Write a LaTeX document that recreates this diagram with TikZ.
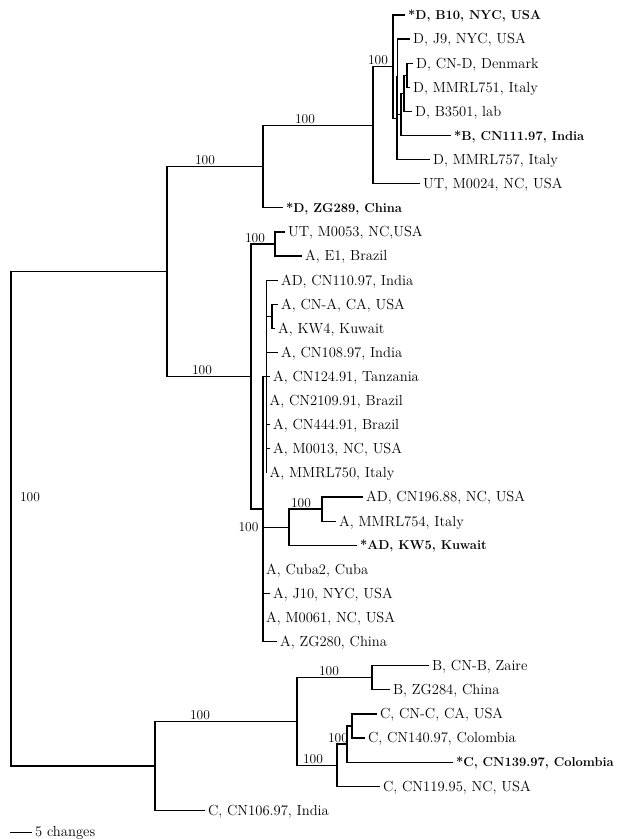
\documentclass[tikz,border=0pt]{standalone}
\usepackage{tikz}
\tikzstyle{branch} = [line width=1.2pt]
\tikzstyle{taxon} = [anchor=west, inner xsep=2.5pt, inner ysep=0pt, text height=9.8pt, text depth=0pt, font=\fontsize{14.6}{16}\selectfont]
\tikzstyle{newtaxon} = [taxon, text height=9pt, font=\fontsize{12.9}{15}\selectfont\bfseries]
\tikzstyle{boot} = [inner sep=1pt, font=\fontsize{13.5}{15}\selectfont]

\begin{document}
\begin{tikzpicture}[x=1pt, y=-24.1pt, branch]
\useasboundingbox (0,0.3776) rectangle (618,35.19);

% Internal nodes (x in px, y in rows)
\coordinate (root) at (11,21.9);
\coordinate (up) at (167,11.64);
\coordinate (low) at (155,32.16);
\coordinate (dclade) at (263,7.285);
\coordinate (dtop) at (373,5.57);
\coordinate (da) at (393,3.14);
\coordinate (db) at (397,5.28);
\coordinate (dbb) at (397.5,3.56);
\coordinate (dc) at (401,5.125);
\coordinate (dd) at (404,4.25);
\coordinate (de) at (407,3.5);
\coordinate (aclade) at (251,16);
\coordinate (am) at (275,10.5);
\coordinate (ax) at (263,21.5);
\coordinate (ay) at (266.5,16);
\coordinate (ak) at (272,13.5);
\coordinate (akw) at (289,22.25);
\coordinate (az) at (322,21.5);
\coordinate (bc) at (297,30.31);
\coordinate (bb) at (372,28.5);
\coordinate (cc) at (337,32.125);
\coordinate (cc2) at (347,31.25);
\coordinate (cc3) at (352,30.5);

% Taxa, D group
\node[newtaxon] (b10) at (405,1) {*D, B10, NYC, USA};
\node[taxon] (j9) at (410,2) {D, J9, NYC, USA};
\node[taxon] (cnd) at (413,3) {D, CN-D, Denmark};
\node[taxon] (mmrl751) at (410,4) {D, MMRL751, Italy};
\node[taxon] (b3501) at (412,5) {D, B3501, lab};
\node[newtaxon] (cn111) at (451,6) {*B, CN111.97, India};
\node[taxon] (mmrl757) at (430,7) {D, MMRL757, Italy};
\node[taxon] (m0024) at (420,8) {UT, M0024, NC, USA};
\node[newtaxon] (zg289) at (283,9) {*D, ZG289, China};

% Taxa, A group
\node[taxon] (m0053) at (285,10) {UT, M0053, NC,USA};
\node[taxon] (e1) at (302,11) {A, E1, Brazil};
\node[taxon] (cn110) at (278,12) {AD, CN110.97, India};
\node[taxon] (cna) at (278,13) {A, CN-A, CA, USA};
\node[taxon] (kw4) at (275,14) {A, KW4, Kuwait};
\node[taxon] (cn108) at (278,15) {A, CN108.97, India};
\node[taxon] (cn124) at (270,16) {A, CN124.91, Tanzania};
\node[taxon] (cn2109) at (266.5,17) {A, CN2109.91, Brazil};
\node[taxon] (cn444) at (270,18) {A, CN444.91, Brazil};
\node[taxon] (m0013) at (270,19) {A, M0013, NC, USA};
\node[taxon] (mmrl750) at (266.5,20) {A, MMRL750, Italy};
\node[taxon] (cn196) at (363,21) {AD, CN196.88, NC, USA};
\node[taxon] (mmrl754) at (336,22) {A, MMRL754, Italy};
\node[newtaxon] (kw5) at (357,23) {*AD, KW5, Kuwait};
\node[taxon] (cuba2) at (263,24) {A, Cuba2, Cuba};
\node[taxon] (j10) at (270,25) {A, J10, NYC, USA};
\node[taxon] (m0061) at (263,26) {A, M0061, NC, USA};
\node[taxon] (zg280) at (277,27) {A, ZG280, China};

% Taxa, B and C groups
\node[taxon] (cnb) at (429,28) {B, CN-B, Zaire};
\node[taxon] (zg284) at (390,29) {B, ZG284, China};
\node[taxon] (cnc) at (377,30) {C, CN-C, CA, USA};
\node[taxon] (cn140) at (365,31) {C, CN140.97, Colombia};
\node[newtaxon] (cn139) at (453,32) {*C, CN139.97, Colombia};
\node[taxon] (cn119) at (380,33) {C, CN119.95, NC, USA};
\node[taxon] (cn106) at (205,34) {C, CN106.97, India};

% Branches
\draw (root) |- (up); \draw (root) |- (low);
\draw (up) |- (dclade); \draw (up) |- (aclade);
\draw (dclade) |- (dtop); \draw (dclade) |- (zg289.west);
\draw (dtop) |- (da); \draw (dtop) |- (m0024.west);
\draw (da) |- (b10.west); \draw (da) |- (db);
\draw (db) |- (dbb); \draw (db) |- (mmrl757.west);
\draw (dbb) |- (j9.west); \draw (dbb) |- (dc);
\draw (dc) |- (dd); \draw (dc) |- (cn111.west);
\draw (dd) |- (de); \draw (dd) |- (b3501.west);
\draw (de) |- (cnd.west); \draw (de) |- (mmrl751.west);

\draw (aclade) |- (am); \draw (aclade) |- (ax);
\draw (am) |- (m0053.west); \draw (am) |- (e1.west);
\draw (ax) |- (ay); \draw (ax) |- (akw);
\draw (ax) |- (cuba2.west); \draw (ax) |- (j10.west);
\draw (ax) |- (m0061.west); \draw (ax) |- (zg280.west);
\draw (ay) |- (cn110.west); \draw (ay) |- (ak);
\draw (ak) |- (cna.west); \draw (ak) |- (kw4.west);
\draw (ay) |- (cn108.west); \draw (ay) |- (cn124.west);
\draw (ay) |- (cn2109.west); \draw (ay) |- (cn444.west);
\draw (ay) |- (m0013.west); \draw (ay) |- (mmrl750.west);
\draw (akw) |- (az); \draw (akw) |- (kw5.west);
\draw (az) |- (cn196.west); \draw (az) |- (mmrl754.west);

\draw (low) |- (bc); \draw (low) |- (cn106.west);
\draw (bc) |- (bb); \draw (bc) |- (cc);
\draw (bb) |- (cnb.west); \draw (bb) |- (zg284.west);
\draw (cc) |- (cc2); \draw (cc) |- (cn119.west);
\draw (cc2) |- (cc3); \draw (cc2) |- (cn139.west);
\draw (cc3) |- (cnc.west); \draw (cc3) |- (cn140.west);

% Bootstrap values
\node[boot, anchor=south] (bsup) at (205,7.285) {100};
\node[boot, anchor=south] (bsd) at (305,5.57) {100};
\node[boot, anchor=south] (bsdtop) at (378,3.14) {100};
\node[boot, anchor=south] (bsm) at (255,10.5) {100};
\node[boot, anchor=south] (bsa) at (202,16) {100};
\node[boot] (bsroot) at (30,21) {100};
\node[boot, anchor=south] (bsz) at (301,21.5) {100};
\node[boot, anchor=east] (bskw) at (260,22.25) {100};
\node[boot, anchor=south] (bslow) at (200,30.31) {100};
\node[boot, anchor=south] (bsb) at (329,28.5) {100};
\node[boot, anchor=south] (bsc) at (313,32.125) {100};
\node[boot, anchor=south] (bsc2) at (338,31.25) {100};

% Scale bar
\coordinate (sbar) at (10,34.9);
\node[taxon, text height=8pt] (sbtext) at (32,34.9) {5 changes};
\draw[line width=1pt] (sbar) -- (sbtext.west);

\end{tikzpicture}
\end{document}
